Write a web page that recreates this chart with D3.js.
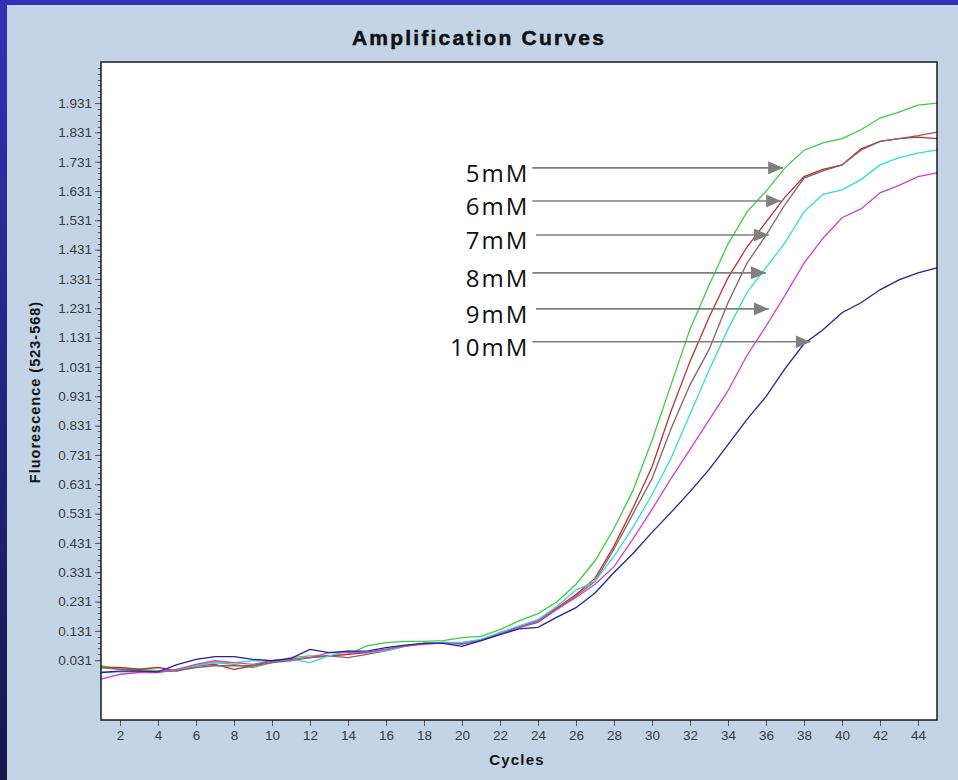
<!DOCTYPE html>
<html>
<head>
<meta charset="utf-8">
<script src="https://cdn.jsdelivr.net/npm/d3@7"></script>
<style>
  body { margin: 0; background: #c2d4e5; }
  svg { display: block; }
</style>
</head>
<body>
<div id="canvas"></div>
<script>
// cycles 1..45
var cycles = d3.range(1, 46);

// fluorescence readings, one value per cycle
var conc5mM = [0.012, 0.000, 0.000, -0.005, -0.005, 0.012, 0.023, 0.017, 0.006, 0.023,
  0.040, 0.046, 0.046, 0.051, 0.080, 0.091, 0.095, 0.095, 0.098, 0.108,
  0.112, 0.135, 0.165, 0.190, 0.230, 0.290, 0.370, 0.480, 0.610, 0.780,
  0.970, 1.160, 1.310, 1.450, 1.560, 1.630, 1.710, 1.770, 1.795, 1.810,
  1.840, 1.880, 1.900, 1.924, 1.931];
var conc6mM = [0.006, 0.006, 0.000, 0.006, -0.005, 0.012, 0.017, 0.000, 0.012, 0.029,
  0.034, 0.040, 0.046, 0.051, 0.057, 0.068, 0.080, 0.088, 0.092, 0.090,
  0.100, 0.125, 0.145, 0.165, 0.210, 0.255, 0.310, 0.420, 0.550, 0.690,
  0.880, 1.050, 1.200, 1.335, 1.440, 1.525, 1.610, 1.680, 1.705, 1.720,
  1.775, 1.800, 1.810, 1.815, 1.810];
var conc7mM = [0.006, 0.000, -0.005, -0.009, -0.005, 0.006, 0.012, 0.012, 0.012, 0.023,
  0.029, 0.040, 0.046, 0.040, 0.051, 0.063, 0.078, 0.088, 0.090, 0.088,
  0.100, 0.122, 0.142, 0.160, 0.205, 0.250, 0.300, 0.410, 0.530, 0.650,
  0.820, 0.970, 1.090, 1.250, 1.385, 1.480, 1.585, 1.675, 1.700, 1.720,
  1.770, 1.800, 1.810, 1.820, 1.832];
var conc8mM = [-0.011, -0.009, -0.009, -0.009, 0.000, 0.012, 0.023, 0.023, 0.029, 0.029,
  0.034, 0.023, 0.046, 0.063, 0.057, 0.063, 0.080, 0.088, 0.092, 0.092,
  0.102, 0.125, 0.148, 0.170, 0.215, 0.270, 0.300, 0.385, 0.485, 0.595,
  0.720, 0.870, 1.020, 1.160, 1.285, 1.370, 1.455, 1.560, 1.620, 1.635,
  1.670, 1.720, 1.745, 1.760, 1.771];
var conc9mM = [-0.034, -0.017, -0.011, -0.011, 0.000, 0.017, 0.029, 0.023, 0.017, 0.029,
  0.034, 0.040, 0.057, 0.057, 0.057, 0.068, 0.080, 0.085, 0.090, 0.085,
  0.098, 0.120, 0.142, 0.165, 0.205, 0.245, 0.290, 0.350, 0.445, 0.545,
  0.650, 0.750, 0.850, 0.950, 1.070, 1.170, 1.275, 1.385, 1.470, 1.540,
  1.570, 1.625, 1.650, 1.680, 1.693];
var conc10mM = [-0.011, -0.006, -0.006, -0.009, 0.016, 0.034, 0.043, 0.043, 0.034, 0.029,
  0.037, 0.068, 0.057, 0.062, 0.062, 0.074, 0.082, 0.088, 0.088, 0.078,
  0.098, 0.118, 0.138, 0.143, 0.178, 0.210, 0.260, 0.330, 0.395, 0.467,
  0.535, 0.606, 0.681, 0.766, 0.852, 0.930, 1.025, 1.110, 1.158, 1.216,
  1.250, 1.294, 1.328, 1.352, 1.369];

var seriesNames = ['5mM', '6mM', '7mM', '8mM', '9mM', '10mM'];
var seriesValues = [conc5mM, conc6mM, conc7mM, conc8mM, conc9mM, conc10mM];
var seriesColors = ['#3fcc3f', '#b8312c', '#8a6262', '#30dcdc', '#cc40cc', '#22229a'];

// annotation arrows: level (fluorescence) and where the tip lands (cycle)
var arrowLevel = [1.710, 1.597, 1.481, 1.352, 1.229, 1.117];
var arrowFrom = [23.7, 23.7, 23.9, 23.7, 23.9, 23.7];
var arrowTip = [36.9, 36.8, 36.15, 36.0, 36.15, 38.35];

var yTicks = [0.031, 0.131, 0.231, 0.331, 0.431, 0.531, 0.631, 0.731, 0.831, 0.931,
  1.031, 1.131, 1.231, 1.331, 1.431, 1.531, 1.631, 1.731, 1.831, 1.931];
var xTicks = d3.range(2, 45, 2);

var W = 958, H = 780;
var m = {t:62, r:21, b:60, l:101};

var svg = d3.select('#canvas').append('svg')
    .attr('width', W).attr('height', H);

// background frame
var defs = svg.append('defs');
var grad = defs.append('linearGradient').attr('id', 'sideGrad')
    .attr('x1', 0).attr('y1', 0).attr('x2', 0).attr('y2', 1);
grad.append('stop').attr('offset', '0%').attr('stop-color', '#3232b6');
grad.append('stop').attr('offset', '100%').attr('stop-color', '#16164a');

svg.append('rect').attr('width', W).attr('height', H).attr('fill', '#c2d4e5');
svg.append('rect').attr('width', W).attr('height', 5).attr('fill', '#3232b6');
svg.append('rect').attr('width', 7).attr('height', H).attr('fill', 'url(#sideGrad)');

var x = d3.scaleLinear().domain([1, 45]).range([m.l, W - m.r]);
var y = d3.scaleLinear().domain([-0.173, 2.071]).range([H - m.b, m.t]);

// plot area
svg.append('rect')
    .attr('x', x(1)).attr('y', y(2.071))
    .attr('width', x(45) - x(1)).attr('height', y(-0.173) - y(2.071))
    .attr('fill', '#ffffff');

// title
svg.append('text')
    .attr('x', 479).attr('y', 45)
    .attr('text-anchor', 'middle')
    .style('font-family', '"Liberation Sans", Arial, sans-serif')
    .style('font-weight', 'bold')
    .style('font-size', '21px')
    .style('letter-spacing', '2.2px')
    .attr('fill', '#111')
    .attr('stroke', '#111').attr('stroke-width', 0.5)
    .text('Amplification Curves');

// y axis
var yMinor = d3.range(0, 102).map(function(i){ return 0.031 + i * 0.02; })
    .filter(function(v){ return v < 2.06; });
svg.append('g').attr('class', 'ytick-minor')
    .selectAll('line').data(yMinor).enter().append('line')
    .attr('x1', m.l - 3).attr('x2', m.l)
    .attr('y1', function(d){ return Math.round(y(d)) + 0.5; })
    .attr('y2', function(d){ return Math.round(y(d)) + 0.5; })
    .attr('stroke', '#555').attr('stroke-width', 1);

var yAxis = svg.append('g')
    .attr('transform', 'translate(' + m.l + ',0)')
    .call(d3.axisLeft(y).tickValues(yTicks).tickFormat(d3.format('.3f')).tickSize(6).tickPadding(3));
yAxis.select('.domain').remove();

// x axis
var xAxis = svg.append('g')
    .attr('transform', 'translate(0,' + (H - m.b) + ')')
    .call(d3.axisBottom(x).tickValues(xTicks).tickSize(6).tickPadding(4));
xAxis.select('.domain').remove();

svg.selectAll('.tick text')
    .style('font-family', '"Liberation Sans", Arial, sans-serif')
    .style('font-size', '13.5px')
    .attr('fill', '#3a3a3a');
svg.selectAll('.tick line').attr('stroke', '#555');

// axis titles
svg.append('text')
    .attr('transform', 'translate(40,392) rotate(-90)')
    .attr('text-anchor', 'middle')
    .style('font-family', '"Liberation Sans", Arial, sans-serif')
    .style('font-weight', 'bold')
    .style('font-size', '14.5px')
    .style('letter-spacing', '1px')
    .attr('fill', '#111')
    .text('Fluorescence (523-568)');

svg.append('text')
    .attr('x', 517).attr('y', 765)
    .attr('text-anchor', 'middle')
    .style('font-family', '"Liberation Sans", Arial, sans-serif')
    .style('font-weight', 'bold')
    .style('font-size', '15px')
    .style('letter-spacing', '1.2px')
    .attr('fill', '#111')
    .text('Cycles');

// curves
var line = d3.line()
    .x(function(d, i){ return x(cycles[i]); })
    .y(function(d){ return y(d); });

svg.append('g').attr('class', 'curves')
    .selectAll('path').data(seriesValues).enter().append('path')
    .attr('d', line)
    .attr('fill', 'none')
    .attr('stroke', function(d, i){ return seriesColors[i]; })
    .attr('stroke-width', 1.3);

// plot border
svg.append('rect')
    .attr('x', x(1)).attr('y', y(2.071))
    .attr('width', x(45) - x(1)).attr('height', y(-0.173) - y(2.071))
    .attr('fill', 'none')
    .attr('stroke', '#1a1a1a').attr('stroke-width', 1.5);

// annotations
defs.append('marker').attr('id', 'arrowHead')
    .attr('viewBox', '0 0 15 13').attr('refX', 15).attr('refY', 6.5)
    .attr('markerWidth', 15).attr('markerHeight', 13)
    .attr('markerUnits', 'userSpaceOnUse')
    .attr('orient', 'auto')
    .append('path').attr('d', 'M0,0L15,6.5L0,13Z').attr('fill', '#7f7f7f');

var notes = svg.append('g').attr('class', 'notes');
seriesNames.forEach(function(name, i){
    notes.append('line')
        .attr('x1', x(arrowFrom[i])).attr('x2', x(arrowTip[i]))
        .attr('y1', y(arrowLevel[i])).attr('y2', y(arrowLevel[i]))
        .attr('stroke', '#7f7f7f').attr('stroke-width', 1.6)
        .attr('marker-end', 'url(#arrowHead)');
    notes.append('text')
        .attr('x', x(23.7) - 3).attr('y', y(arrowLevel[i]) + 14)
        .attr('text-anchor', 'end')
        .style('font-family', '"Open Sans", "DejaVu Sans", sans-serif')
        .style('font-size', '24px')
        .style('letter-spacing', '2px')
        .attr('fill', '#111')
        .text(name);
});
</script>
</body>
</html>
